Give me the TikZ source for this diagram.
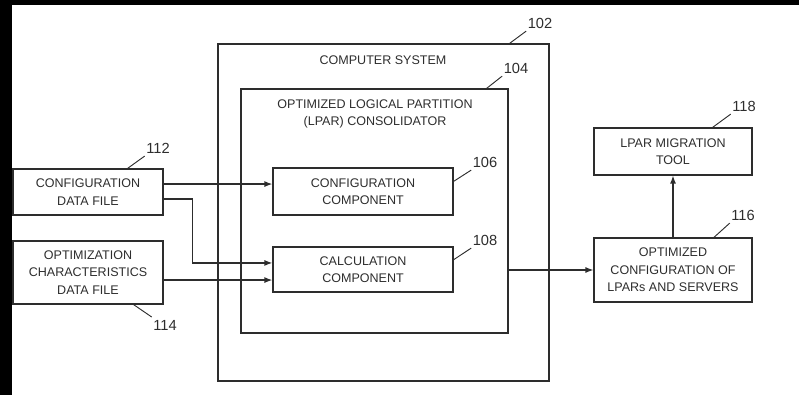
\documentclass[tikz,border=0pt]{standalone}
\usepackage{fontspec}
\setmainfont{Liberation Sans}
\usepackage{xcolor}
\definecolor{trace}{RGB}{45,45,45}
\usepackage{tikz}
\usetikzlibrary{arrows.meta,positioning}

\begin{document}
\begin{tikzpicture}[x=0.75pt, y=-0.75pt,
      bloc/.style={draw=trace, line width=0.9pt, inner sep=0pt, align=center,
                   font=\fontsize{9.4}{13.2}\selectfont, text=trace},
      titre/.style={align=center, font=\fontsize{9.4}{13.2}\selectfont, text=trace},
      fleche/.style={-{Latex[length=6pt,width=4.5pt]}, line width=0.9pt, color=trace},
      repere/.style={line width=0.7pt, color=trace},
      num/.style={font=\fontsize{11}{13}\selectfont, text=trace, inner sep=0pt}]
    \useasboundingbox (0,0) rectangle (799,395);
    % bords noirs du scan
    \fill[black] (0,0) rectangle (799,5);
    \fill[black] (0,0) rectangle (12,395);
    % cadres
    \node[bloc, minimum width=248.25pt, minimum height=252.75pt] (sys)  at (383.5,212.5) {};
    \node[bloc, minimum width=200.25pt, minimum height=183pt]    (lpar) at (374.5,211) {};
    \node[titre] (tsys)  at (383,60)  {COMPUTER SYSTEM};
    \node[titre] (tlpar) at (375,114) {OPTIMIZED LOGICAL PARTITION\\(LPAR) CONSOLIDATOR};
    % composants
    \node[bloc, minimum width=135pt, minimum height=35.25pt]  (comp)     at (363,191.5) {CONFIGURATION\\COMPONENT};
    \node[bloc, minimum width=135pt, minimum height=33.75pt]  (calc)     at (363,269.5) {CALCULATION\\COMPONENT};
    \node[bloc, minimum width=112.5pt, minimum height=34.5pt] (fichconf) at (88,192)    {CONFIGURATION\\DATA FILE};
    \node[bloc, minimum width=112.5pt, minimum height=47.25pt] (fichopt) at (88,272.5)  {OPTIMIZATION\\CHARACTERISTICS\\DATA FILE};
    \node[bloc, minimum width=118.5pt, minimum height=35.25pt] (migr)    at (673,151.5) {LPAR MIGRATION\\TOOL};
    \node[bloc, minimum width=118.5pt, minimum height=48pt]    (opt)     at (673,270)   {OPTIMIZED\\CONFIGURATION OF\\LPARs AND SERVERS};
    % numeros
    \node[num] (n102) at (540,23)  {102};
    \node[num] (n104) at (516,68)  {104};
    \node[num] (n106) at (485,162) {106};
    \node[num] (n108) at (485,240) {108};
    \node[num] (n112) at (158,148) {112};
    \node[num] (n114) at (165,325) {114};
    \node[num] (n118) at (744,106) {118};
    \node[num] (n116) at (743,215) {116};
    \draw[repere] ([xshift=-30pt]sys.north east)   -- ([xshift=-1pt,yshift=-2pt]n102.south west);
    \draw[repere] ([xshift=-16.5pt]lpar.north east) -- ([xshift=-1pt,yshift=-2pt]n104.south west);
    \draw[repere] ([yshift=-10.5pt]comp.north east) -- ([xshift=-1pt,yshift=-2pt]n106.south west);
    \draw[repere] ([yshift=-10pt]calc.north east)   -- ([xshift=-1pt,yshift=-2pt]n108.south west);
    \draw[repere] ([xshift=-27pt]fichconf.north east) -- ([xshift=-1pt,yshift=-2pt]n112.south west);
    \draw[repere] ([xshift=-22.5pt]fichopt.south east) -- ([xshift=-1pt,yshift=2pt]n114.north west);
    \draw[repere] ([xshift=-30pt]migr.north east)  -- ([xshift=-1pt,yshift=-2pt]n118.south west);
    \draw[repere] ([xshift=-29pt]opt.north east)   -- ([xshift=-1pt,yshift=-2pt]n116.south west);
    % liaisons
    \coordinate (e106) at ([yshift=5.6pt]comp.west);
    \coordinate (e108) at ([yshift=-7.9pt]calc.west);
    \draw[fleche] (e106 -| fichconf.east) -- (e106);
    \draw[fleche] ([yshift=-5.2pt]fichconf.east) -- ++(29,0) |- ([yshift=4.9pt]calc.west);
    \draw[fleche] (e108 -| fichopt.east) -- (e108);
    \draw[fleche] (lpar.east |- opt.west) -- (opt.west);
    \draw[fleche] (opt.north) -- (migr.south);
  \end{tikzpicture}
\end{document}
